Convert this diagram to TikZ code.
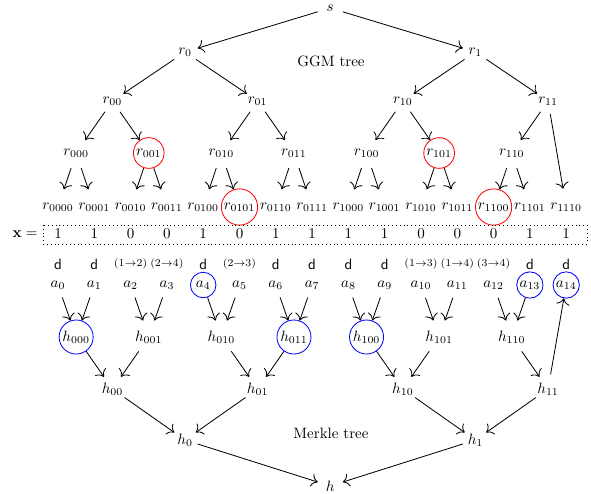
\documentclass[tikz,border=0pt]{standalone}
\usetikzlibrary{arrows.meta}
\newcommand\colx[1]{58+36.3*#1}
\begin{document}
\begin{tikzpicture}[x=0.667pt,y=-0.667pt,line width=0.55pt,
  nd/.style={circle,inner sep=1pt,minimum size=17pt},
  rc/.style={nd,draw=red},
  bc/.style={nd,draw=blue},
  arr/.style={-{To[scale=1.5]}},
  lbl/.style={inner sep=1pt}]
\useasboundingbox (0,0) rectangle (591,493);
% ---------------- GGM tree ----------------
\node[nd] (s) at ({\colx{7.5}},8) {$s$};
\node[nd] (r0) at ({\colx{3.5}},52) {$r_0$};
\node[nd] (r1) at ({\colx{11.5}},52) {$r_1$};
\node[nd] (r00) at ({\colx{1.5}},101) {$r_{00}$};
\node[nd] (r01) at ({\colx{5.5}},101) {$r_{01}$};
\node[nd] (r10) at ({\colx{9.5}},101) {$r_{10}$};
\node[nd] (r11) at ({\colx{13.5}},101) {$r_{11}$};
\foreach \c/\b/\s in {0.5/000/nd,2.5/001/rc,4.5/010/nd,6.5/011/nd,8.5/100/nd,10.5/101/rc,12.5/110/nd}
  \node[\s] (r\b) at ({\colx{\c}},153) {$r_{\b}$};
\foreach \c/\b/\s in {0/0000/nd,1/0001/nd,2/0010/nd,3/0011/nd,4/0100/nd,5/0101/rc,6/0110/nd,7/0111/nd,8/1000/nd,9/1001/nd,10/1010/nd,11/1011/nd,12/1100/rc,13/1101/nd,14/1110/nd}
  \node[\s] (r\b) at ({\colx{\c}},207) {$r_{\b}$};
\node[lbl] (ggm) at (331,61) {GGM tree};
\foreach \p/\c in {s/r0,s/r1,r0/r00,r0/r01,r1/r10,r1/r11,
  r00/r000,r00/r001,r01/r010,r01/r011,r10/r100,r10/r101,r11/r110,r11/r1110,
  r000/r0000,r000/r0001,r001/r0010,r001/r0011,r010/r0100,r010/r0101,r011/r0110,r011/r0111,
  r100/r1000,r100/r1001,r101/r1010,r101/r1011,r110/r1100,r110/r1101}
  \draw[arr] (\p) -- (\c);
% ---------------- x row ----------------
\node[lbl] (xlab) at (25,234) {$\mathbf{x} =$};
\draw[dotted] (43,225) rectangle (587,244);
\foreach \i/\v in {0/1,1/1,2/0,3/0,4/1,5/0,6/1,7/1,8/1,9/1,10/0,11/0,12/0,13/1,14/1}
  \node[lbl] (x\i) at ({\colx{\i}},234) {$\v$};
% ---------------- d row ----------------
\foreach \i in {0,1,4,6,7,8,9,13,14}
  \node[lbl] (d\i) at ({\colx{\i}},264) {\textsf{d}};
\foreach \i/\u/\w in {2/1/2,3/2/4,5/2/3,10/1/3,11/1/4,12/3/4}
  \node[lbl] (d\i) at ({\colx{\i}},264) {\scriptsize$(\u{\to}\w)$};
% ---------------- Merkle tree ----------------
\foreach \i/\s in {0/nd,1/nd,2/nd,3/nd,4/bc,5/nd,6/nd,7/nd,8/nd,9/nd,10/nd,11/nd,12/nd,13/bc,14/bc}
  \node[\s] (a\i) at ({\colx{\i}},285) {$a_{\i}$};
\foreach \c/\b/\s in {0.5/000/bc,2.5/001/nd,4.5/010/nd,6.5/011/bc,8.5/100/bc,10.5/101/nd,12.5/110/nd}
  \node[\s] (h\b) at ({\colx{\c}},337) {$h_{\b}$};
\node[nd] (h00) at ({\colx{1.5}},389) {$h_{00}$};
\node[nd] (h01) at ({\colx{5.5}},389) {$h_{01}$};
\node[nd] (h10) at ({\colx{9.5}},389) {$h_{10}$};
\node[nd] (h11) at ({\colx{13.5}},389) {$h_{11}$};
\node[nd] (h0) at ({\colx{3.5}},440) {$h_0$};
\node[nd] (h1) at ({\colx{11.5}},440) {$h_1$};
\node[nd] (h) at ({\colx{7.5}},486) {$h$};
\node[lbl] (mkl) at (331,433) {Merkle tree};
\foreach \c/\p in {a0/h000,a1/h000,a2/h001,a3/h001,a4/h010,a5/h010,a6/h011,a7/h011,
  a8/h100,a9/h100,a10/h101,a11/h101,a12/h110,a13/h110,
  h000/h00,h001/h00,h010/h01,h011/h01,h100/h10,h101/h10,h110/h11,h11/a14,
  h00/h0,h01/h0,h10/h1,h11/h1,h0/h,h1/h}
  \draw[arr] (\c) -- (\p);
\end{tikzpicture}
\end{document}
